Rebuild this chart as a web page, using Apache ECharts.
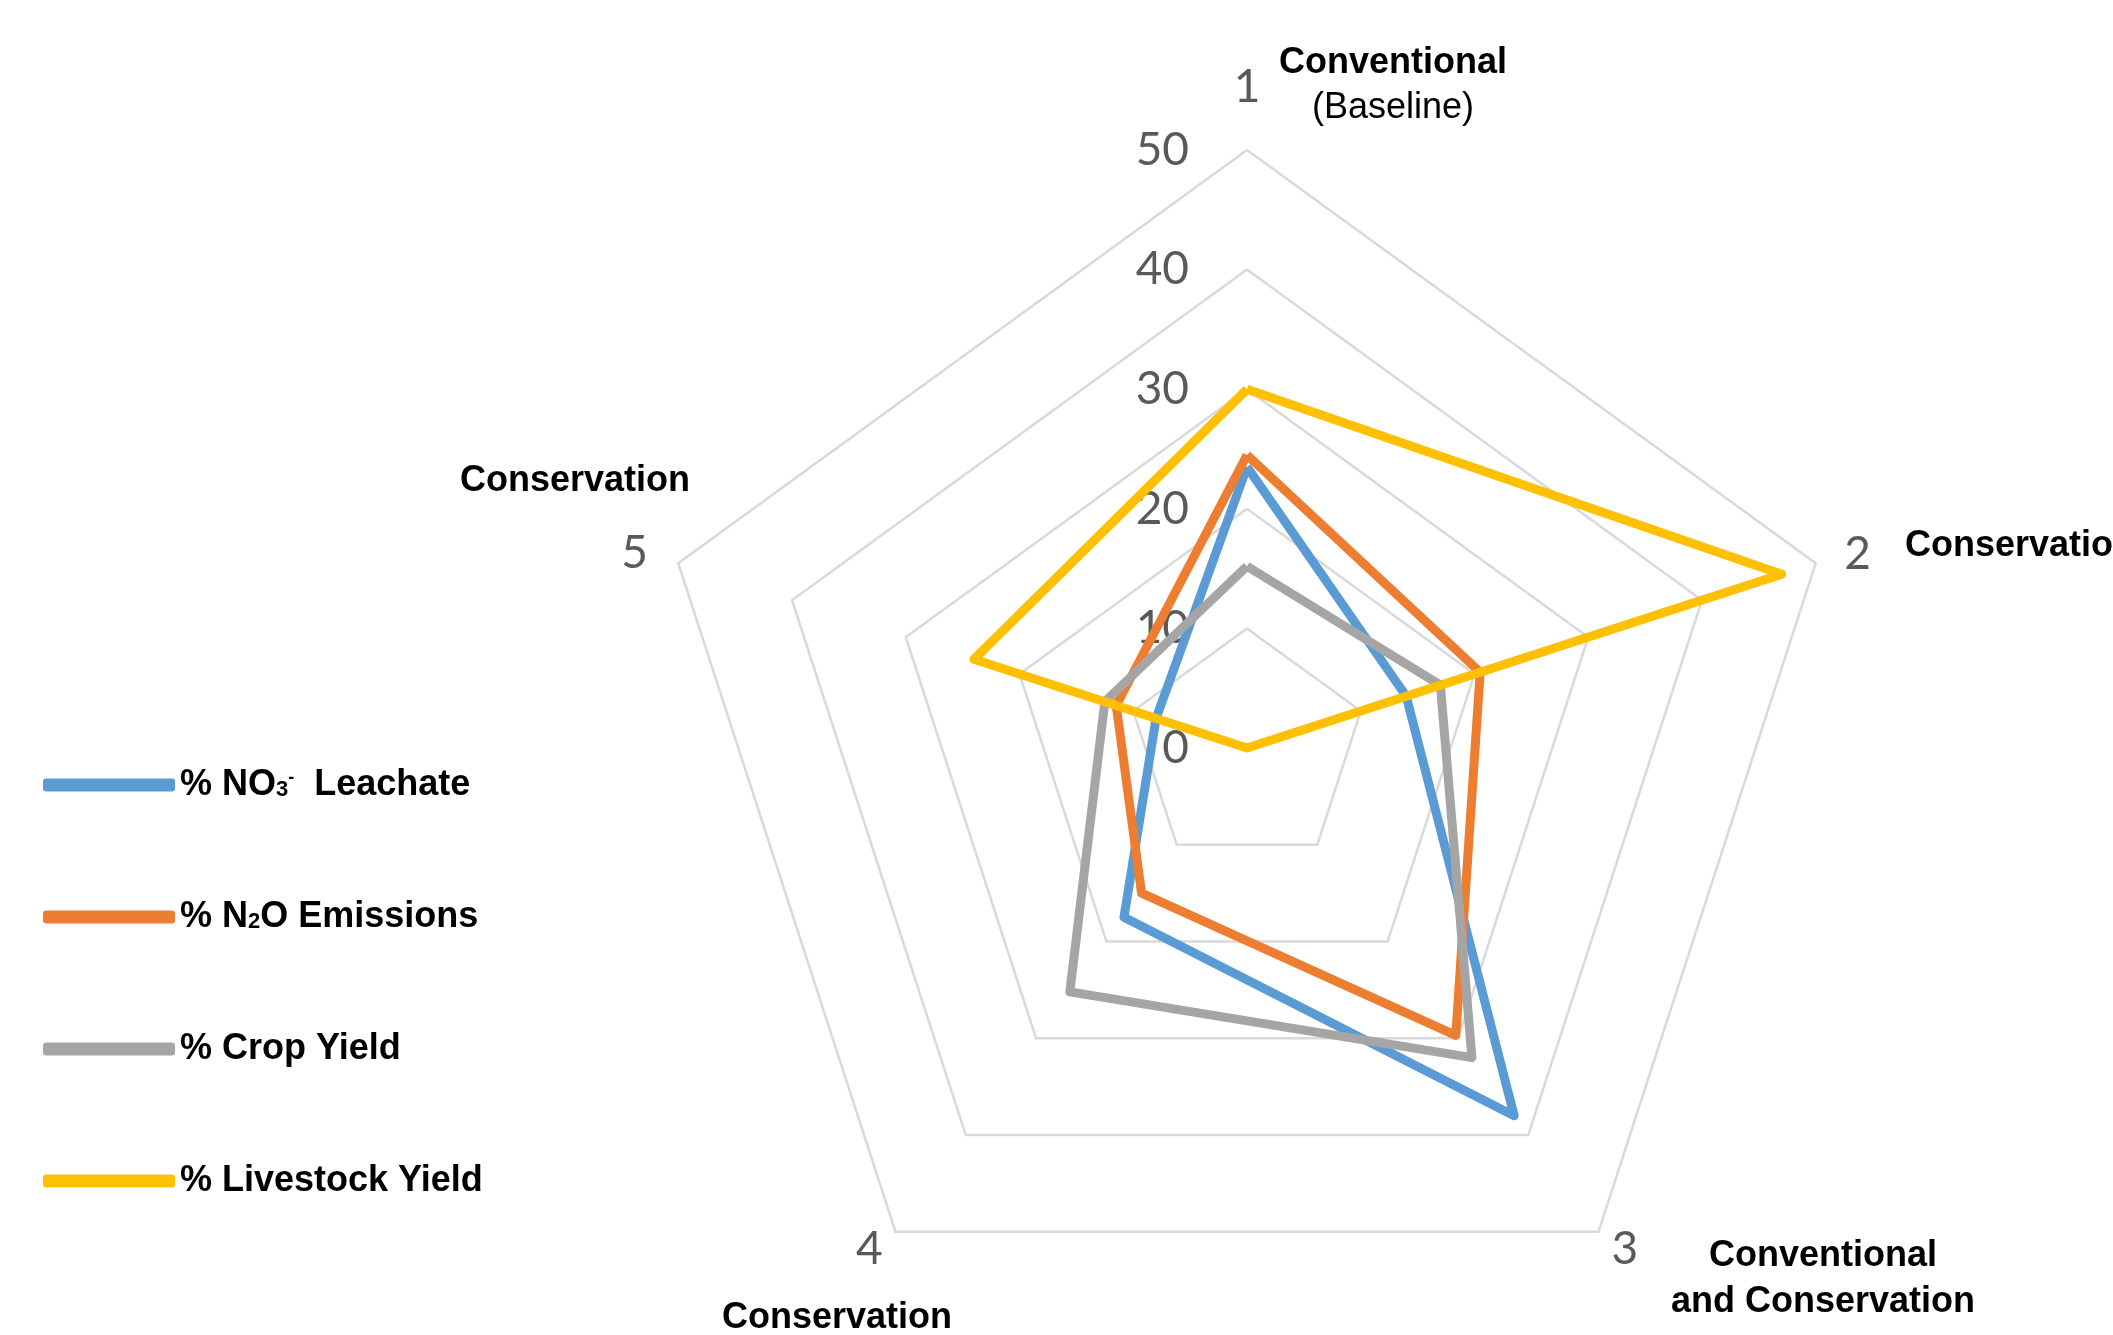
<!DOCTYPE html>
<html>
<head>
<meta charset="utf-8">
<title>Scenario radar</title>
<script src="https://cdn.jsdelivr.net/npm/echarts@6/dist/echarts.min.js"></script>
<style>
  html, body { margin: 0; padding: 0; background: #fff; }
  #chart { width: 2113px; height: 1335px; }
</style>
</head>
<body>
<div id="chart"></div>
<script>
// scenario axes, numbered like the excel original (clockwise from top)
const axisNames = ['1', '2', '3', '4', '5'];
const axisMax = 50;
const ringCount = 5;

const seriesNames = ['% NO3- Leachate', '% N2O Emissions', '% Crop Yield', '% Livestock Yield'];
const no3Leachate = [23.5, 14, 38, 17.5, 8];
const n2oEmissions = [24.5, 20.5, 29.7, 15, 11.5];
const cropYield = [15.2, 17, 32, 25.2, 12.5];
const livestockYield = [30, 47, 0, 0, 24];

const seriesValues = [no3Leachate, n2oEmissions, cropYield, livestockYield];
const seriesColors = ['#5B9BD5', '#ED7D31', '#A5A5A5', '#FFC000'];

// echarts lays radar axes out counter-clockwise, excel goes clockwise
const axisOrder = [0, 4, 3, 2, 1];

// legend text with sub/superscripts
const legendLabels = {
  '% NO3- Leachate': '% NO{sub|3}{sup|-}  Leachate',
  '% N2O Emissions': '% N{sub|2}O Emissions',
  '% Crop Yield': '% Crop Yield',
  '% Livestock Yield': '% Livestock Yield'
};

const nameGaps = [40, 30, 22, 22, 32];

const labelFont = 'Lato, "Open Sans", sans-serif';
const arial = '"Liberation Sans", Arial, sans-serif';

const chart = echarts.init(document.getElementById('chart'));

const caption = (text, x, y, bold, align) => ({
  type: 'text',
  x: x,
  y: y,
  style: {
    text: text,
    font: (bold ? 'bold ' : '') + '36px "Liberation Sans", Arial, sans-serif',
    fill: '#000',
    align: align || 'center',
    textAlign: align || 'center',
    verticalAlign: 'middle',
    textVerticalAlign: 'middle'
  }
});

const option = {
  animation: false,
  backgroundColor: '#fff',
  legend: {
    orient: 'vertical',
    left: 38,
    top: 760,
    itemWidth: 132,
    itemHeight: 13,
    itemGap: 92,
    icon: 'roundRect',
    selectedMode: false,
    data: seriesNames,
    formatter: name => legendLabels[name],
    textStyle: {
      fontFamily: arial,
      fontSize: 36,
      fontWeight: 'bold',
      color: '#000',
      lineHeight: 40,
      rich: {
        sub: { fontFamily: arial, fontSize: 22, fontWeight: 'bold', color: '#000', verticalAlign: 'bottom', padding: [0, 0, 4, 0] },
        sup: { fontFamily: arial, fontSize: 18, fontWeight: 'bold', color: '#000', verticalAlign: 'top', padding: [4, 0, 0, 0] }
      }
    }
  },
  radar: {
    center: [1247, 748],
    radius: 598,
    shape: 'polygon',
    startAngle: 90,
    splitNumber: ringCount,
    indicator: axisOrder.map((k, i) => ({
      name: axisNames[k],
      min: 0,
      max: axisMax,
      nameGap: nameGaps[k],
      axisLabel: i === 0
        ? { show: true, color: '#595959', fontFamily: labelFont, fontSize: 46, margin: 58 }
        : { show: false }
    })),
    axisName: { color: '#595959', fontFamily: labelFont, fontSize: 46 },
    axisLine: { show: false },
    axisTick: { show: false },
    splitLine: { lineStyle: { color: '#d9d9d9', width: 2.5 } },
    splitArea: { show: false }
  },
  series: seriesValues.map((vals, i) => ({
    type: 'radar',
    name: seriesNames[i],
    symbol: 'none',
    itemStyle: { color: seriesColors[i] },
    lineStyle: { color: seriesColors[i], width: 9 },
    data: [{ value: axisOrder.map(k => vals[k]), name: seriesNames[i] }]
  })),
  graphic: [
    caption('Conventional', 1393, 63, true),
    caption('(Baseline)', 1393, 108, false),
    caption('Conservation', 1905, 546, true, 'left'),
    caption('Conventional', 1823, 1256, true),
    caption('and Conservation', 1823, 1302, true),
    caption('Conservation', 837, 1318, true),
    caption('Conservation', 575, 481, true)
  ]
};

chart.setOption(option);
</script>
</body>
</html>
